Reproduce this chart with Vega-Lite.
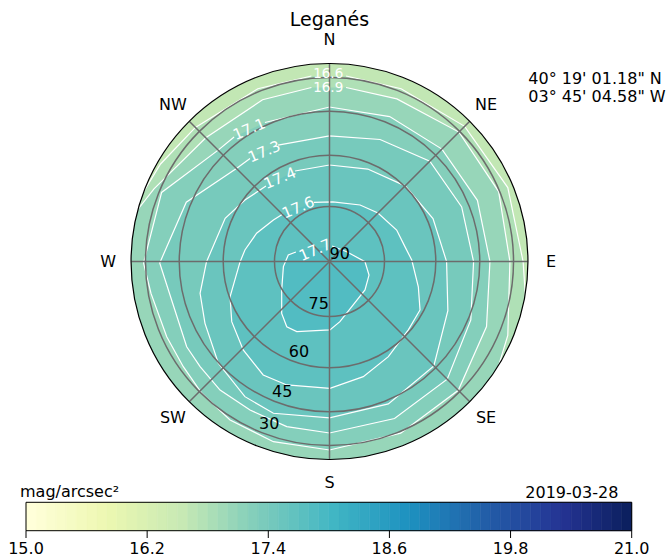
{
  "$schema": "https://vega.github.io/schema/vega-lite/v6.json",
  "width": 670,
  "height": 559,
  "autosize": {"type": "none"},
  "padding": 0,
  "background": "white",
  "config": {"view": {"stroke": null}, "text": {"font": "DejaVu Sans", "color": "black"}},
  "datasets": {
    "contours": [
      {"level": 16.6, "seg": 1, "i": 1, "x": 0.078, "y": 0.873},
      {"level": 16.6, "seg": 1, "i": 2, "x": 0.337, "y": 0.813},
      {"level": 16.6, "seg": 1, "i": 3, "x": 0.636, "y": 0.636},
      {"level": 16.6, "seg": 1, "i": 4, "x": 0.839, "y": 0.348},
      {"level": 16.6, "seg": 1, "i": 5, "x": 0.911, "y": 0.0},
      {"level": 16.6, "seg": 1, "i": 6, "x": 0.922, "y": -0.163},
      {"level": 16.6, "seg": 1, "i": 7, "x": 0.985, "y": -0.209},
      {"level": 16.6, "seg": 0, "i": 8, "x": 0.766, "y": -0.643},
      {"level": 16.6, "seg": 0, "i": 9, "x": 0.342, "y": -0.94},
      {"level": 16.6, "seg": 0, "i": 10, "x": -0.174, "y": -0.985},
      {"level": 16.6, "seg": 0, "i": 11, "x": -0.643, "y": -0.766},
      {"level": 16.6, "seg": 0, "i": 12, "x": -0.94, "y": -0.342},
      {"level": 16.6, "seg": 0, "i": 13, "x": -0.996, "y": 0.087},
      {"level": 16.6, "seg": 2, "i": 14, "x": -0.963, "y": 0.295},
      {"level": 16.6, "seg": 2, "i": 15, "x": -0.88, "y": 0.32},
      {"level": 16.6, "seg": 2, "i": 16, "x": -0.795, "y": 0.459},
      {"level": 16.6, "seg": 2, "i": 17, "x": -0.631, "y": 0.631},
      {"level": 16.6, "seg": 2, "i": 18, "x": -0.337, "y": 0.813},
      {"level": 16.6, "seg": 2, "i": 19, "x": -0.085, "y": 0.873},

      {"level": 16.9, "seg": 1, "i": 1, "x": 0.078, "y": 0.819},
      {"level": 16.9, "seg": 1, "i": 2, "x": 0.317, "y": 0.765},
      {"level": 16.9, "seg": 1, "i": 3, "x": 0.609, "y": 0.609},
      {"level": 16.9, "seg": 1, "i": 4, "x": 0.796, "y": 0.329},
      {"level": 16.9, "seg": 1, "i": 5, "x": 0.849, "y": 0.0},
      {"level": 16.9, "seg": 1, "i": 6, "x": 0.839, "y": -0.348},
      {"level": 16.9, "seg": 1, "i": 7, "x": 0.794, "y": -0.496},
      {"level": 16.9, "seg": 1, "i": 8, "x": 0.835, "y": -0.563},
      {"level": 16.9, "seg": 0, "i": 9, "x": 0.5, "y": -0.866},
      {"level": 16.9, "seg": 0, "i": 10, "x": 0.0, "y": -1.0},
      {"level": 16.9, "seg": 0, "i": 11, "x": -0.5, "y": -0.866},
      {"level": 16.9, "seg": 0, "i": 12, "x": -0.866, "y": -0.5},
      {"level": 16.9, "seg": 0, "i": 13, "x": -1.0, "y": 0.0},
      {"level": 16.9, "seg": 2, "i": 14, "x": -0.981, "y": 0.226},
      {"level": 16.9, "seg": 2, "i": 15, "x": -0.904, "y": 0.242},
      {"level": 16.9, "seg": 2, "i": 16, "x": -0.826, "y": 0.342},
      {"level": 16.9, "seg": 2, "i": 17, "x": -0.582, "y": 0.582},
      {"level": 16.9, "seg": 2, "i": 18, "x": -0.315, "y": 0.761},
      {"level": 16.9, "seg": 2, "i": 19, "x": -0.085, "y": 0.819},

      {"level": 17.1, "seg": 1, "i": 1, "x": -0.304, "y": 0.654},
      {"level": 17.1, "seg": 1, "i": 2, "x": 0.0, "y": 0.727},
      {"level": 17.1, "seg": 1, "i": 3, "x": 0.283, "y": 0.682},
      {"level": 17.1, "seg": 1, "i": 4, "x": 0.529, "y": 0.529},
      {"level": 17.1, "seg": 1, "i": 5, "x": 0.696, "y": 0.288},
      {"level": 17.1, "seg": 1, "i": 6, "x": 0.755, "y": 0.0},
      {"level": 17.1, "seg": 1, "i": 7, "x": 0.739, "y": -0.306},
      {"level": 17.1, "seg": 1, "i": 8, "x": 0.606, "y": -0.606},
      {"level": 17.1, "seg": 1, "i": 9, "x": 0.335, "y": -0.808},
      {"level": 17.1, "seg": 1, "i": 10, "x": 0.0, "y": -0.887},
      {"level": 17.1, "seg": 1, "i": 11, "x": -0.264, "y": -0.848},
      {"level": 17.1, "seg": 1, "i": 12, "x": -0.468, "y": -0.746},
      {"level": 17.1, "seg": 1, "i": 13, "x": -0.601, "y": -0.62},
      {"level": 17.1, "seg": 1, "i": 14, "x": -0.688, "y": -0.495},
      {"level": 17.1, "seg": 1, "i": 15, "x": -0.766, "y": -0.354},
      {"level": 17.1, "seg": 1, "i": 16, "x": -0.84, "y": -0.15},
      {"level": 17.1, "seg": 1, "i": 17, "x": -0.875, "y": -0.007},
      {"level": 17.1, "seg": 1, "i": 18, "x": -0.79, "y": 0.325},
      {"level": 17.1, "seg": 1, "i": 19, "x": -0.524, "y": 0.524},
      {"level": 17.1, "seg": 1, "i": 20, "x": -0.449, "y": 0.586},

      {"level": 17.3, "seg": 1, "i": 1, "x": -0.242, "y": 0.548},
      {"level": 17.3, "seg": 1, "i": 2, "x": 0.0, "y": 0.591},
      {"level": 17.3, "seg": 1, "i": 3, "x": 0.238, "y": 0.574},
      {"level": 17.3, "seg": 1, "i": 4, "x": 0.472, "y": 0.472},
      {"level": 17.3, "seg": 1, "i": 5, "x": 0.622, "y": 0.257},
      {"level": 17.3, "seg": 1, "i": 6, "x": 0.678, "y": 0.0},
      {"level": 17.3, "seg": 1, "i": 7, "x": 0.665, "y": -0.275},
      {"level": 17.3, "seg": 1, "i": 8, "x": 0.554, "y": -0.554},
      {"level": 17.3, "seg": 1, "i": 9, "x": 0.306, "y": -0.739},
      {"level": 17.3, "seg": 1, "i": 10, "x": 0.0, "y": -0.807},
      {"level": 17.3, "seg": 1, "i": 11, "x": -0.201, "y": -0.777},
      {"level": 17.3, "seg": 1, "i": 12, "x": -0.374, "y": -0.699},
      {"level": 17.3, "seg": 1, "i": 13, "x": -0.515, "y": -0.605},
      {"level": 17.3, "seg": 1, "i": 14, "x": -0.609, "y": -0.495},
      {"level": 17.3, "seg": 1, "i": 15, "x": -0.672, "y": -0.401},
      {"level": 17.3, "seg": 1, "i": 16, "x": -0.743, "y": -0.181},
      {"level": 17.3, "seg": 1, "i": 17, "x": -0.799, "y": -0.007},
      {"level": 17.3, "seg": 1, "i": 18, "x": -0.674, "y": 0.279},
      {"level": 17.3, "seg": 1, "i": 19, "x": -0.438, "y": 0.438},
      {"level": 17.3, "seg": 1, "i": 20, "x": -0.374, "y": 0.485},

      {"level": 17.4, "seg": 1, "i": 1, "x": -0.162, "y": 0.426},
      {"level": 17.4, "seg": 1, "i": 2, "x": 0.0, "y": 0.454},
      {"level": 17.4, "seg": 1, "i": 3, "x": 0.18, "y": 0.435},
      {"level": 17.4, "seg": 1, "i": 4, "x": 0.356, "y": 0.356},
      {"level": 17.4, "seg": 1, "i": 5, "x": 0.487, "y": 0.202},
      {"level": 17.4, "seg": 1, "i": 6, "x": 0.551, "y": 0.0},
      {"level": 17.4, "seg": 1, "i": 7, "x": 0.557, "y": -0.231},
      {"level": 17.4, "seg": 1, "i": 8, "x": 0.491, "y": -0.491},
      {"level": 17.4, "seg": 1, "i": 9, "x": 0.277, "y": -0.67},
      {"level": 17.4, "seg": 1, "i": 10, "x": 0.0, "y": -0.736},
      {"level": 17.4, "seg": 1, "i": 11, "x": -0.264, "y": -0.714},
      {"level": 17.4, "seg": 1, "i": 12, "x": -0.398, "y": -0.636},
      {"level": 17.4, "seg": 1, "i": 13, "x": -0.523, "y": -0.479},
      {"level": 17.4, "seg": 1, "i": 14, "x": -0.586, "y": -0.291},
      {"level": 17.4, "seg": 1, "i": 15, "x": -0.609, "y": -0.15},
      {"level": 17.4, "seg": 1, "i": 16, "x": -0.579, "y": -0.002},
      {"level": 17.4, "seg": 1, "i": 17, "x": -0.491, "y": 0.203},
      {"level": 17.4, "seg": 1, "i": 18, "x": -0.398, "y": 0.289},
      {"level": 17.4, "seg": 1, "i": 19, "x": -0.299, "y": 0.355},

      {"level": 17.6, "seg": 1, "i": 1, "x": -0.073, "y": 0.278},
      {"level": 17.6, "seg": 1, "i": 2, "x": 0.016, "y": 0.281},
      {"level": 17.6, "seg": 1, "i": 3, "x": 0.144, "y": 0.266},
      {"level": 17.6, "seg": 1, "i": 4, "x": 0.228, "y": 0.228},
      {"level": 17.6, "seg": 1, "i": 5, "x": 0.316, "y": 0.148},
      {"level": 17.6, "seg": 1, "i": 6, "x": 0.355, "y": 0.07},
      {"level": 17.6, "seg": 1, "i": 7, "x": 0.387, "y": 0.007},
      {"level": 17.6, "seg": 1, "i": 8, "x": 0.418, "y": -0.119},
      {"level": 17.6, "seg": 1, "i": 9, "x": 0.426, "y": -0.228},
      {"level": 17.6, "seg": 1, "i": 10, "x": 0.371, "y": -0.322},
      {"level": 17.6, "seg": 1, "i": 11, "x": 0.277, "y": -0.448},
      {"level": 17.6, "seg": 1, "i": 12, "x": 0.159, "y": -0.542},
      {"level": 17.6, "seg": 1, "i": 13, "x": 0.002, "y": -0.597},
      {"level": 17.6, "seg": 1, "i": 14, "x": -0.201, "y": -0.581},
      {"level": 17.6, "seg": 1, "i": 15, "x": -0.312, "y": -0.534},
      {"level": 17.6, "seg": 1, "i": 16, "x": -0.406, "y": -0.416},
      {"level": 17.6, "seg": 1, "i": 17, "x": -0.46, "y": -0.283},
      {"level": 17.6, "seg": 1, "i": 18, "x": -0.468, "y": -0.166},
      {"level": 17.6, "seg": 1, "i": 19, "x": -0.421, "y": -0.002},
      {"level": 17.6, "seg": 1, "i": 20, "x": -0.398, "y": 0.054},
      {"level": 17.6, "seg": 1, "i": 21, "x": -0.343, "y": 0.133},
      {"level": 17.6, "seg": 1, "i": 22, "x": -0.264, "y": 0.195},
      {"level": 17.6, "seg": 1, "i": 23, "x": -0.219, "y": 0.224},

      {"level": 17.7, "seg": 1, "i": 1, "x": 0.012, "y": 0.073},
      {"level": 17.7, "seg": 1, "i": 2, "x": 0.081, "y": 0.046},
      {"level": 17.7, "seg": 1, "i": 3, "x": 0.167, "y": -0.001},
      {"level": 17.7, "seg": 1, "i": 4, "x": 0.186, "y": -0.064},
      {"level": 17.7, "seg": 1, "i": 5, "x": 0.167, "y": -0.134},
      {"level": 17.7, "seg": 1, "i": 6, "x": 0.104, "y": -0.213},
      {"level": 17.7, "seg": 1, "i": 7, "x": 0.049, "y": -0.283},
      {"level": 17.7, "seg": 1, "i": 8, "x": 0.002, "y": -0.322},
      {"level": 17.7, "seg": 1, "i": 9, "x": -0.154, "y": -0.33},
      {"level": 17.7, "seg": 1, "i": 10, "x": -0.201, "y": -0.307},
      {"level": 17.7, "seg": 1, "i": 11, "x": -0.225, "y": -0.244},
      {"level": 17.7, "seg": 1, "i": 12, "x": -0.225, "y": -0.134},
      {"level": 17.7, "seg": 1, "i": 13, "x": -0.217, "y": -0.024},
      {"level": 17.7, "seg": 1, "i": 14, "x": -0.194, "y": 0.031},
      {"level": 17.7, "seg": 1, "i": 15, "x": -0.158, "y": 0.045}
    ],
    "bands": [
      {"level": 16.6, "band": 16.75},
      {"level": 16.9, "band": 17.0},
      {"level": 17.1, "band": 17.2},
      {"level": 17.3, "band": 17.35},
      {"level": 17.4, "band": 17.5},
      {"level": 17.6, "band": 17.65},
      {"level": 17.7, "band": 17.8}
    ],
    "clabels": [
      {"level": 16.6, "x": -0.006, "y": 0.882},
      {"level": 16.9, "x": -0.006, "y": 0.815},
      {"level": 17.1, "x": -0.378, "y": 0.623},
      {"level": 17.3, "x": -0.307, "y": 0.517},
      {"level": 17.4, "x": -0.233, "y": 0.392},
      {"level": 17.6, "x": -0.147, "y": 0.254},
      {"level": 17.7, "x": -0.068, "y": 0.054}
    ],
    "alts": [
      {"alt": 90, "rho": 0},
      {"alt": 75, "rho": 0.2588},
      {"alt": 60, "rho": 0.5},
      {"alt": 45, "rho": 0.7071},
      {"alt": 30, "rho": 0.866}
    ],
    "dirs": [
      {"dir": "N", "az": 0},
      {"dir": "NE", "az": 45},
      {"dir": "E", "az": 90},
      {"dir": "SE", "az": 135},
      {"dir": "S", "az": 180},
      {"dir": "SW", "az": 225},
      {"dir": "W", "az": 270},
      {"dir": "NW", "az": 315}
    ],
    "cbar": [
      {"lo": 15.0, "hi": 15.1}, {"lo": 15.1, "hi": 15.2}, {"lo": 15.2, "hi": 15.3}, {"lo": 15.3, "hi": 15.4}, {"lo": 15.4, "hi": 15.5},
      {"lo": 15.5, "hi": 15.6}, {"lo": 15.6, "hi": 15.7}, {"lo": 15.7, "hi": 15.8}, {"lo": 15.8, "hi": 15.9}, {"lo": 15.9, "hi": 16.0},
      {"lo": 16.0, "hi": 16.1}, {"lo": 16.1, "hi": 16.2}, {"lo": 16.2, "hi": 16.3}, {"lo": 16.3, "hi": 16.4}, {"lo": 16.4, "hi": 16.5},
      {"lo": 16.5, "hi": 16.6}, {"lo": 16.6, "hi": 16.7}, {"lo": 16.7, "hi": 16.8}, {"lo": 16.8, "hi": 16.9}, {"lo": 16.9, "hi": 17.0},
      {"lo": 17.0, "hi": 17.1}, {"lo": 17.1, "hi": 17.2}, {"lo": 17.2, "hi": 17.3}, {"lo": 17.3, "hi": 17.4}, {"lo": 17.4, "hi": 17.5},
      {"lo": 17.5, "hi": 17.6}, {"lo": 17.6, "hi": 17.7}, {"lo": 17.7, "hi": 17.8}, {"lo": 17.8, "hi": 17.9}, {"lo": 17.9, "hi": 18.0},
      {"lo": 18.0, "hi": 18.1}, {"lo": 18.1, "hi": 18.2}, {"lo": 18.2, "hi": 18.3}, {"lo": 18.3, "hi": 18.4}, {"lo": 18.4, "hi": 18.5},
      {"lo": 18.5, "hi": 18.6}, {"lo": 18.6, "hi": 18.7}, {"lo": 18.7, "hi": 18.8}, {"lo": 18.8, "hi": 18.9}, {"lo": 18.9, "hi": 19.0},
      {"lo": 19.0, "hi": 19.1}, {"lo": 19.1, "hi": 19.2}, {"lo": 19.2, "hi": 19.3}, {"lo": 19.3, "hi": 19.4}, {"lo": 19.4, "hi": 19.5},
      {"lo": 19.5, "hi": 19.6}, {"lo": 19.6, "hi": 19.7}, {"lo": 19.7, "hi": 19.8}, {"lo": 19.8, "hi": 19.9}, {"lo": 19.9, "hi": 20.0},
      {"lo": 20.0, "hi": 20.1}, {"lo": 20.1, "hi": 20.2}, {"lo": 20.2, "hi": 20.3}, {"lo": 20.3, "hi": 20.4}, {"lo": 20.4, "hi": 20.5},
      {"lo": 20.5, "hi": 20.6}, {"lo": 20.6, "hi": 20.7}, {"lo": 20.7, "hi": 20.8}, {"lo": 20.8, "hi": 20.9}, {"lo": 20.9, "hi": 21.0}
    ],
    "cticks": [
      {"t": 15.0}, {"t": 16.2}, {"t": 17.4}, {"t": 18.6}, {"t": 19.8}, {"t": 21.0}
    ]
  },
  "layer": [
    {
      "layer": [
        {
          "data": {"values": [{"band": 16.55}]},
          "mark": {"type": "arc"},
          "encoding": {
            "x": {"datum": 0, "type": "quantitative", "scale": {"domain": [-1.55059, 1.60235], "nice": false, "zero": false}, "axis": null},
            "y": {"datum": 0, "type": "quantitative", "scale": {"domain": [-1.4, 1.23059], "nice": false, "zero": false}, "axis": null},
            "theta": {"datum": 0, "type": "quantitative", "scale": {"domain": [0, 360], "range": [0, 6.283185307179586]}},
            "theta2": {"datum": 360},
            "radius": {"datum": 0.9318, "type": "quantitative", "stack": null, "scale": {"type": "linear", "domain": [0, 1], "range": [0, 212.5], "zero": true, "nice": false}},
            "color": {"field": "band", "type": "quantitative", "scale": {"domain": [15, 15.75, 16.5, 17.25, 18, 18.75, 19.5, 20.25, 21], "range": ["#ffffd9", "#edf8b1", "#c7e9b4", "#7fcdbb", "#41b6c4", "#1d91c0", "#225ea8", "#253494", "#081d58"], "interpolate": "rgb"}, "legend": null}
          }
        },
        {
          "data": {"name": "contours"},
          "transform": [{"lookup": "level", "from": {"data": {"name": "bands"}, "key": "level", "fields": ["band"]}}],
          "mark": {"type": "line", "interpolate": "linear-closed", "filled": true, "strokeWidth": 0, "strokeOpacity": 0},
          "encoding": {
            "x": {"field": "x", "type": "quantitative", "scale": {"domain": [-1.55059, 1.60235], "nice": false, "zero": false}, "axis": null},
            "y": {"field": "y", "type": "quantitative", "scale": {"domain": [-1.4, 1.23059], "nice": false, "zero": false}, "axis": null},
            "detail": {"field": "level", "type": "nominal"},
            "order": {"field": "i", "type": "quantitative"},
            "color": {"field": "band", "type": "quantitative", "legend": null}
          }
        },
        {
          "data": {"name": "contours"},
          "transform": [{"filter": "datum.seg > 0"}],
          "mark": {"type": "line", "interpolate": "linear", "stroke": "white", "strokeWidth": 1.2},
          "encoding": {
            "x": {"field": "x", "type": "quantitative", "scale": {"domain": [-1.55059, 1.60235], "nice": false, "zero": false}, "axis": null},
            "y": {"field": "y", "type": "quantitative", "scale": {"domain": [-1.4, 1.23059], "nice": false, "zero": false}, "axis": null},
            "detail": [{"field": "level", "type": "nominal"}, {"field": "seg", "type": "nominal"}],
            "order": {"field": "i", "type": "quantitative"}
          }
        },
        {
          "data": {"values": [{}]},
          "mark": {"type": "arc", "fill": "white", "strokeWidth": 0},
          "encoding": {
            "x": {"datum": 0, "type": "quantitative", "axis": null},
            "y": {"datum": 0, "type": "quantitative", "axis": null},
            "theta": {"datum": 0, "type": "quantitative"},
            "theta2": {"datum": 360},
            "radius": {"datum": 1.1, "type": "quantitative", "stack": null},
            "radius2": {"datum": 0.9318}
          }
        },
        {
          "data": {"name": "alts"},
          "transform": [{"filter": "datum.alt < 90"}],
          "mark": {"type": "arc", "filled": false, "stroke": "#6c6c6c", "strokeWidth": 1.5},
          "encoding": {
            "x": {"datum": 0, "type": "quantitative", "axis": null},
            "y": {"datum": 0, "type": "quantitative", "axis": null},
            "theta": {"datum": 0, "type": "quantitative"},
            "theta2": {"datum": 360},
            "radius": {"field": "rho", "type": "quantitative", "stack": null}
          }
        },
        {
          "data": {"name": "dirs"},
          "mark": {"type": "arc", "filled": false, "stroke": "#6c6c6c", "strokeWidth": 1.5},
          "encoding": {
            "x": {"datum": 0, "type": "quantitative", "axis": null},
            "y": {"datum": 0, "type": "quantitative", "axis": null},
            "theta": {"field": "az", "type": "quantitative", "stack": null},
            "theta2": {"field": "az"},
            "radius": {"datum": 0.9318, "type": "quantitative", "stack": null}
          }
        },
        {
          "data": {"values": [{}]},
          "mark": {"type": "arc", "filled": false, "stroke": "black", "strokeWidth": 1.2},
          "encoding": {
            "x": {"datum": 0, "type": "quantitative", "axis": null},
            "y": {"datum": 0, "type": "quantitative", "axis": null},
            "theta": {"datum": 0, "type": "quantitative"},
            "theta2": {"datum": 360},
            "radius": {"datum": 0.9318, "type": "quantitative", "stack": null}
          }
        },
        {
          "data": {"name": "clabels"},
          "transform": [{"filter": "datum.level < 17"}],
          "mark": {"type": "text", "color": "white", "fontSize": 13.5, "align": "center", "baseline": "middle"},
          "encoding": {
            "x": {"field": "x", "type": "quantitative", "axis": null},
            "y": {"field": "y", "type": "quantitative", "axis": null},
            "text": {"field": "level", "type": "quantitative", "format": ".1f"}
          }
        },
        {
          "data": {"name": "clabels"},
          "transform": [{"filter": "datum.level > 17"}],
          "mark": {"type": "text", "color": "white", "fontSize": 15, "align": "center", "baseline": "middle", "angle": -23},
          "encoding": {
            "x": {"field": "x", "type": "quantitative", "axis": null},
            "y": {"field": "y", "type": "quantitative", "axis": null},
            "text": {"field": "level", "type": "quantitative", "format": ".1f"}
          }
        },
        {
          "data": {"name": "alts"},
          "mark": {"type": "text", "fontSize": 16, "align": "left", "baseline": "bottom"},
          "encoding": {
            "x": {"datum": 0, "type": "quantitative", "axis": null},
            "y": {"datum": 0, "type": "quantitative", "axis": null},
            "theta": {"datum": 202.5, "type": "quantitative"},
            "radius": {"field": "rho", "type": "quantitative", "stack": null},
            "text": {"field": "alt", "type": "quantitative"}
          }
        },
        {
          "data": {"name": "dirs"},
          "mark": {"type": "text", "fontSize": 16, "align": "center", "baseline": "middle"},
          "encoding": {
            "x": {"datum": 0, "type": "quantitative", "axis": null},
            "y": {"datum": 0, "type": "quantitative", "axis": null},
            "theta": {"field": "az", "type": "quantitative", "stack": null},
            "radius": {"datum": 1.042, "type": "quantitative", "stack": null},
            "text": {"field": "dir", "type": "nominal"}
          }
        },
        {
          "data": {"values": [{}]},
          "mark": {"type": "text", "text": "Leganés", "fontSize": 19, "align": "center", "baseline": "alphabetic"},
          "encoding": {
            "x": {"datum": 0, "type": "quantitative", "axis": null},
            "y": {"datum": 1.1082, "type": "quantitative", "axis": null}
          }
        },
        {
          "data": {"values": [{}]},
          "mark": {"type": "text", "text": ["40° 19' 01.18\" N", "03° 45' 04.58\" W"], "lineHeight": 17.7, "fontSize": 16, "align": "left", "baseline": "alphabetic"},
          "encoding": {
            "x": {"datum": 0.9355, "type": "quantitative", "axis": null},
            "y": {"datum": 0.8353, "type": "quantitative", "axis": null}
          }
        },
        {
          "data": {"values": [{}]},
          "mark": {"type": "text", "text": "mag/arcsec²", "fontSize": 16, "align": "left", "baseline": "alphabetic"},
          "encoding": {
            "x": {"datum": -1.4565, "type": "quantitative", "axis": null},
            "y": {"datum": -1.1059, "type": "quantitative", "axis": null}
          }
        },
        {
          "data": {"values": [{}]},
          "mark": {"type": "text", "text": "2019-03-28", "fontSize": 16, "align": "right", "baseline": "alphabetic"},
          "encoding": {
            "x": {"datum": 1.3591, "type": "quantitative", "axis": null},
            "y": {"datum": -1.1106, "type": "quantitative", "axis": null}
          }
        }
      ]
    },
    {
      "layer": [
        {
          "data": {"name": "cbar"},
          "mark": {"type": "rect", "strokeWidth": 0.6},
          "encoding": {
            "x": {"field": "lo", "type": "quantitative", "scale": {"domain": [14.7424, 21.3794], "nice": false, "zero": false}, "axis": null},
            "x2": {"field": "hi"},
            "y": {"datum": -1.1332, "type": "quantitative", "axis": null},
            "y2": {"datum": -1.2668},
            "color": {"field": "lo", "type": "quantitative", "legend": null},
            "stroke": {"field": "lo", "type": "quantitative", "scale": {"domain": [15, 15.75, 16.5, 17.25, 18, 18.75, 19.5, 20.25, 21], "range": ["#ffffd9", "#edf8b1", "#c7e9b4", "#7fcdbb", "#41b6c4", "#1d91c0", "#225ea8", "#253494", "#081d58"], "interpolate": "rgb"}, "legend": null}
          }
        },
        {
          "data": {"values": [{}]},
          "mark": {"type": "rect", "filled": false, "stroke": "black", "strokeWidth": 1},
          "encoding": {
            "x": {"datum": 15, "type": "quantitative", "axis": null},
            "x2": {"datum": 21},
            "y": {"datum": -1.1332, "type": "quantitative", "axis": null},
            "y2": {"datum": -1.2668}
          }
        },
        {
          "data": {"name": "cticks"},
          "mark": {"type": "rule", "color": "black", "strokeWidth": 1},
          "encoding": {
            "x": {"field": "t", "type": "quantitative", "axis": null},
            "y": {"datum": -1.2668, "type": "quantitative", "axis": null},
            "y2": {"datum": -1.3012}
          }
        },
        {
          "data": {"name": "cticks"},
          "mark": {"type": "text", "fontSize": 16, "align": "center", "baseline": "alphabetic"},
          "encoding": {
            "x": {"field": "t", "type": "quantitative", "axis": null},
            "y": {"datum": -1.3765, "type": "quantitative", "axis": null},
            "text": {"field": "t", "type": "quantitative", "format": ".1f"}
          }
        }
      ]
    }
  ],
  "resolve": {"scale": {"x": "independent"}}
}
